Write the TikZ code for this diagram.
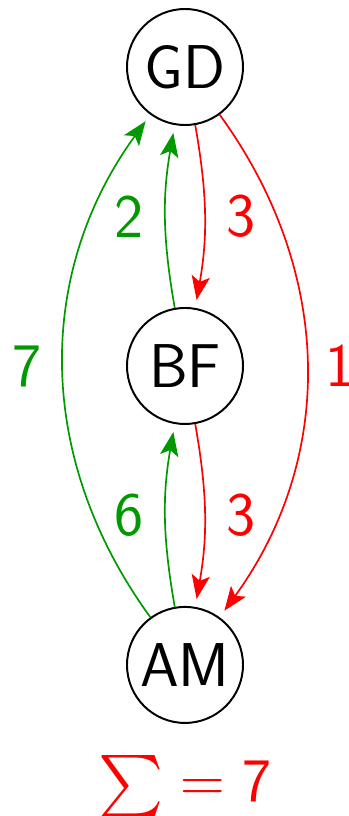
\documentclass[tikz,border=0pt]{standalone}
\usepackage{fontspec}
\usepackage{amsmath}
\usetikzlibrary{arrows.meta,positioning}
\colorlet{gaingreen}{green!60!black}
\newcommand{\bigsf}{\sffamily\fontsize{44}{52}\selectfont}

\begin{document}
\begin{tikzpicture}[
  node distance=4.525cm,
  place/.style={circle, draw, line width=1.4pt, minimum size=2.9cm,
                inner sep=0pt, font=\bigsf},
  lbl/.style={font=\bigsf, inner sep=0.5mm},
  arr/.style={-{Stealth[length=6mm, width=4.6mm, inset=1.4mm]},
              line width=1.2pt, shorten >=2mm},
  greenarr/.style={arr, gaingreen},
  redarr/.style={arr, red},
  sumbox/.style={red, inner sep=1mm, scale=2.12, transform shape,
                 font=\sffamily\fontsize{20.74}{25}\selectfont}
]
  \useasboundingbox (-4.625,1.675) rectangle (4.1,-18.725);

  \node[place] (gd) at (0,0) {GD};
  \node[place, below=of gd] (bf) {BF};
  \node[place, below=of bf] (am) {AM};
  \node[sumbox, below=5.5mm of am] (total) {$\sum = \mathsf{7}$};

  \draw[redarr] (gd) to[bend left=10] node[lbl, right=4.8mm]{3} (bf);
  \draw[greenarr] (bf) to[bend left=10] node[lbl, left=4.8mm]{2} (gd);
  \draw[redarr] (bf) to[bend left=10] node[lbl, right=4.8mm]{3} (am);
  \draw[greenarr] (am) to[bend left=10] node[lbl, left=4.8mm]{6} (bf);
  \draw[greenarr] (am) to[bend left=36] node[lbl, left=4.8mm]{7} (gd);
  \draw[redarr] (gd) to[bend left=36] node[lbl, right=4.1mm]{1} (am);
\end{tikzpicture}
\end{document}
